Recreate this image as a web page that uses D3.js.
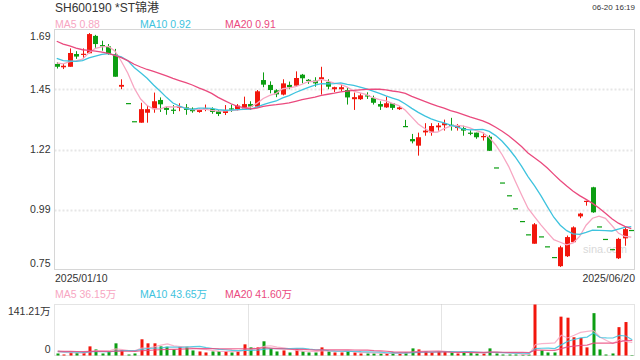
<!DOCTYPE html>
<html><head><meta charset="utf-8">
<script src="https://cdn.jsdelivr.net/npm/d3@7"></script>
<style>
body{margin:0;background:#fff}
text{font-family:"Liberation Sans",Arial,"Noto Sans CJK SC",sans-serif}
</style>
</head><body>
<svg id="c" width="640" height="360"></svg>
<script>
const title = "SH600190 *ST锦港";
const timeStamp = "06-20 16:19";
const dateLabels = ["2025/01/10", "2025/06/20"];
const priceTicks = ["1.69", "1.45", "1.22", "0.99", "0.75"];
const priceMax = 1.69, priceMin = 0.75;
const volTicks = ["141.21万", "0"];
const volMax = 141.21;
const watermark = "sina.com";

// closes / volumes before the first visible day (only used for the moving averages)
const histClose = [1.765,1.745,1.755,1.725,1.715,1.705,1.695,1.685,1.67,1.65,
  1.635,1.615,1.595,1.572,1.558,1.565,1.555,1.568,1.563];
const histVol = [12,15,11,14,10,13,12,16,14,11,13,10,12,15,11,9,12,14,10];

const open = [1.555,1.542,1.544,1.594,1.591,1.597,1.665,1.629,1.624,1.594,
  1.466,1.402,1.331,1.325,1.364,1.378,1.414,1.383,1.376,1.383,
  1.385,1.380,1.367,1.376,1.379,1.370,1.363,1.381,1.378,1.378,
  1.398,1.388,1.492,1.473,1.452,1.435,1.473,1.470,1.513,1.493,
  1.490,1.495,1.484,1.456,1.456,1.453,1.417,1.417,1.432,1.422,
  1.398,1.385,1.401,1.378,1.312,1.261,1.235,1.287,1.287,1.307,
  1.315,1.317,1.304,1.304,1.286,1.286,1.268,1.270,1.150,1.091,
  1.041,0.990,0.940,0.888,0.851,0.880,0.841,0.799,0.763,0.802,
  0.857,0.958,1.019,1.072,0.919,0.870,0.830,0.794,0.872,0.905];
const high = [1.562,1.555,1.616,1.605,1.616,1.676,1.669,1.646,1.633,1.614,
  1.495,1.402,1.331,1.403,1.392,1.443,1.424,1.388,1.394,1.401,
  1.398,1.385,1.380,1.396,1.385,1.375,1.394,1.396,1.398,1.427,
  1.409,1.453,1.522,1.487,1.456,1.495,1.486,1.526,1.516,1.496,
  1.503,1.544,1.495,1.466,1.474,1.464,1.443,1.440,1.444,1.431,
  1.409,1.427,1.401,1.390,1.336,1.281,1.286,1.323,1.323,1.324,
  1.337,1.344,1.320,1.313,1.295,1.286,1.286,1.276,1.150,1.091,
  1.041,0.990,0.940,0.888,0.932,0.880,0.841,0.799,0.843,0.883,
  0.919,0.972,1.019,1.074,0.919,0.870,0.830,0.874,0.919,0.905];
const low = [1.537,1.535,1.544,1.575,1.577,1.597,1.618,1.607,1.591,1.505,
  1.456,1.402,1.331,1.325,1.325,1.364,1.367,1.356,1.359,1.370,
  1.356,1.364,1.364,1.370,1.360,1.351,1.355,1.367,1.372,1.375,
  1.375,1.385,1.464,1.440,1.425,1.432,1.456,1.466,1.479,1.477,
  1.466,1.435,1.456,1.445,1.448,1.396,1.375,1.414,1.418,1.396,
  1.375,1.383,1.375,1.375,1.312,1.244,1.196,1.274,1.274,1.294,
  1.294,1.294,1.294,1.274,1.276,1.262,1.255,1.214,1.150,1.091,
  1.041,0.990,0.940,0.888,0.851,0.880,0.841,0.799,0.760,0.799,
  0.854,0.951,1.000,0.972,0.919,0.870,0.830,0.791,0.843,0.905];
const close = [1.544,1.548,1.598,1.584,1.595,1.672,1.633,1.624,1.594,1.505,
  1.473,1.402,1.331,1.378,1.378,1.409,1.397,1.375,1.373,1.388,
  1.375,1.370,1.375,1.381,1.367,1.359,1.375,1.378,1.392,1.398,
  1.388,1.448,1.474,1.453,1.436,1.479,1.464,1.500,1.499,1.490,
  1.479,1.503,1.466,1.464,1.464,1.424,1.425,1.432,1.430,1.403,
  1.388,1.401,1.383,1.385,1.312,1.252,1.268,1.294,1.312,1.314,
  1.323,1.313,1.312,1.294,1.283,1.268,1.273,1.215,1.150,1.091,
  1.041,0.990,0.940,0.888,0.927,0.880,0.841,0.799,0.837,0.877,
  0.915,0.969,1.019,0.974,0.919,0.870,0.830,0.870,0.908,0.905];
const volume = [5.6,2.8,8.4,7.5,8.4,25.3,16.8,5.6,10.3,33.7,
  15.0,2.8,5.6,44.9,33.7,33.7,25.3,24.3,16.8,24.3,
  24.3,14.0,11.2,8.4,11.2,12.2,12.2,8.4,11.2,30.9,
  22.5,22.5,39.3,19.7,11.2,14.0,8.4,16.8,11.2,8.4,
  8.4,22.5,11.2,8.4,8.4,12.2,8.4,5.6,5.6,5.6,
  5.6,5.6,8.4,5.6,8.4,19.7,16.8,11.2,8.4,10.3,
  9.8,8.4,5.6,8.4,8.4,5.6,5.6,19.7,5.6,2.8,
  2.8,2.8,2.8,2.8,141.21,14.0,8.4,8.4,107.6,104.69,
  50.5,48.7,22.5,117.25,16.8,2.8,5.6,78.5,92.65,1.2];

const maPeriods = [5, 10, 20];
const maColors = ["#f7a6c2", "#3ec3de", "#ea4a7e"];
const upColor = "#f2160c", downColor = "#0c9e12";

const svg = d3.select("#c");
const plotL = 54.5, plotR = 634.5;
const priceTop = 29.5, priceBot = 269.5;
const volTop = 304.5, volBot = 355.5;
const n = close.length;

const x = d3.scaleBand().domain(d3.range(n)).range([53.5, 634.5]).padding(0);
const cx = i => x(i) + x.bandwidth() / 2;
const y = d3.scaleLinear().domain([priceMin, priceMax]).range([priceBot, priceTop]);
const yv = d3.scaleLinear().domain([0, volMax]).range([volBot, volTop]);

function ma(arr, hist, p) {
  const full = hist.concat(arr);
  return arr.map((_, i) => d3.mean(full.slice(i + hist.length - p + 1, i + hist.length + 1)));
}
const isUp = i => close[i] > open[i] || (close[i] === open[i] && (i === 0 || close[i] >= close[i - 1]));

// header
svg.append("text").attr("x", 55).attr("y", 11.5).attr("font-size", 12).attr("fill", "#333").text(title);
svg.append("text").attr("x", 635).attr("y", 10).attr("font-size", 8).attr("text-anchor", "end").attr("fill", "#333").text(timeStamp);

// price gridlines
const tickVals = d3.range(priceTicks.length).map(i => priceMax - i * (priceMax - priceMin) / (priceTicks.length - 1));
svg.append("g").selectAll("line").data(tickVals.slice(1, -1)).join("line")
  .attr("x1", plotL).attr("x2", plotR)
  .attr("y1", d => Math.round(y(d)) + 0.5).attr("y2", d => Math.round(y(d)) + 0.5)
  .attr("stroke", "#e6e6e6").attr("stroke-width", 2).attr("stroke-dasharray", "2,2");

// price frame
svg.append("rect").attr("x", plotL).attr("y", priceTop).attr("width", plotR - plotL).attr("height", priceBot - priceTop)
  .attr("fill", "none").attr("stroke", "#d6d6d6").attr("stroke-width", 1);

// price axis
const ay = svg.append("g").attr("transform", `translate(${plotL - 3},0)`)
  .call(d3.axisLeft(y).tickValues(tickVals).tickFormat((d, i) => priceTicks[i]).tickSize(0).tickPadding(1));
ay.select(".domain").remove();
ay.selectAll("text").attr("font-size", 10.5).attr("fill", "#333").attr("font-family", null)
  .attr("dy", (d, i) => i === 0 ? "0.95em" : (i === priceTicks.length - 1 ? "-0.25em" : "0.32em"));

// watermark
svg.append("text").attr("x", 605).attr("y", 253).attr("font-size", 11).attr("text-anchor", "middle").attr("fill", "#d9d9d9").text(watermark);

// candles
const bw = 5;
const cg = svg.append("g");
cg.selectAll("line").data(d3.range(n)).join("line")
  .attr("x1", i => Math.round(cx(i)) + 0.5).attr("x2", i => Math.round(cx(i)) + 0.5)
  .attr("y1", i => y(high[i])).attr("y2", i => y(low[i]))
  .attr("stroke", i => isUp(i) ? upColor : downColor).attr("stroke-width", 1);
cg.selectAll("rect").data(d3.range(n)).join("rect")
  .attr("x", i => Math.round(cx(i)) + 0.5 - bw / 2)
  .attr("width", bw)
  .attr("y", i => y(Math.max(open[i], close[i])))
  .attr("height", i => Math.max(1.2, Math.abs(y(open[i]) - y(close[i]))))
  .attr("fill", i => isUp(i) ? upColor : downColor);

// price MAs
maPeriods.forEach((p, k) => {
  const vals = ma(close, histClose, p);
  svg.append("path").datum(vals)
    .attr("d", d3.line().x((d, i) => cx(i)).y(d => y(d)))
    .attr("fill", "none").attr("stroke", maColors[k]).attr("stroke-width", 1.3);
  svg.append("text").attr("x", 55 + k * 85).attr("y", 27.5).attr("font-size", 10.5).attr("fill", maColors[k])
    .text(`MA${p} ${vals[n - 1].toFixed(2)}`);
});

// date axis
const ax = svg.append("g").attr("transform", `translate(0,${priceBot})`)
  .call(d3.axisBottom(x).tickValues([0, n - 1]).tickFormat((d, i) => dateLabels[i]).tickSize(0).tickPadding(3));
ax.select(".domain").remove();
ax.selectAll("text").attr("font-size", 10.5).attr("fill", "#333").attr("font-family", null)
  .attr("text-anchor", (d, i) => i === 0 ? "start" : "end")
  .attr("x", (d, i) => i === 0 ? plotL + 0.5 - cx(0) : plotR + 0.5 - cx(n - 1))
  .attr("dy", "0.95em");

// volume frame (dotted)
const vg = svg.append("g").attr("stroke", "#c8c8c8").attr("stroke-width", 1).attr("stroke-dasharray", "1,1").attr("fill", "none");
vg.append("rect").attr("x", plotL).attr("y", volTop).attr("width", plotR - plotL).attr("height", volBot - volTop);
[1, 2].forEach(k => {
  const xx = Math.round(plotL + (plotR - plotL) * k / 3) + 0.5;
  vg.append("line").attr("x1", xx).attr("x2", xx).attr("y1", volTop).attr("y2", volBot);
});

// volume axis
const av = svg.append("g").attr("transform", `translate(${plotL - 3},0)`)
  .call(d3.axisLeft(yv).tickValues([volMax, 0]).tickFormat((d, i) => volTicks[i]).tickSize(0).tickPadding(1));
av.select(".domain").remove();
av.selectAll("text").attr("font-size", 10.5).attr("fill", "#333").attr("font-family", null)
  .attr("dy", (d, i) => i === 0 ? "0.95em" : "-0.3em");

// volume bars
svg.append("g").selectAll("rect").data(d3.range(n)).join("rect")
  .attr("x", i => Math.round(cx(i)) - 0.5)
  .attr("width", 3)
  .attr("y", i => yv(volume[i]))
  .attr("height", i => volBot - yv(volume[i]))
  .attr("fill", i => isUp(i) ? upColor : downColor);

// volume MAs
maPeriods.forEach((p, k) => {
  const vals = ma(volume, histVol, p);
  svg.append("path").datum(vals)
    .attr("d", d3.line().x((d, i) => cx(i) + 1).y(d => yv(d)))
    .attr("fill", "none").attr("stroke", maColors[k]).attr("stroke-width", 1.2).attr("opacity", 0.85);
  svg.append("text").attr("x", 55 + k * 85).attr("y", 298).attr("font-size", 10.5).attr("fill", maColors[k])
    .text(`MA${p} ${vals[n - 1].toFixed(2)}万`);
});
</script>
</body></html>
